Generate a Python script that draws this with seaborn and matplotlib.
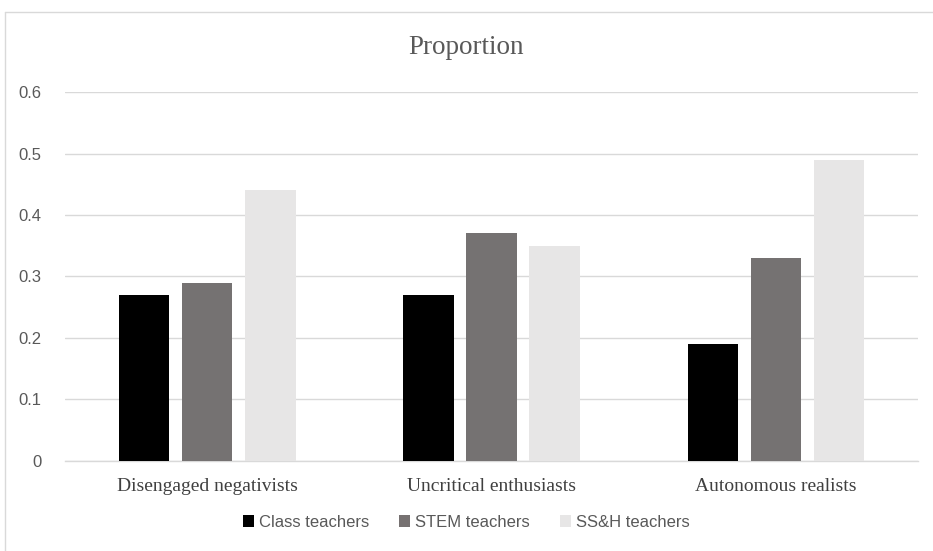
import numpy as np
import pandas as pd
import matplotlib
matplotlib.use("Agg")
import matplotlib.pyplot as plt
import seaborn as sns
from matplotlib.lines import Line2D
from matplotlib.patches import Patch

# ==========================
# Dane
# ==========================
categories = ["Disengaged negativists", "Uncritical enthusiasts", "Autonomous realists"]
groups = ["Class teachers", "STEM teachers", "SS&H teachers"]
class_teachers = [0.27, 0.27, 0.19]
stem_teachers = [0.29, 0.37, 0.33]
ssh_teachers = [0.44, 0.35, 0.49]
y_ticks = [0, 0.1, 0.2, 0.3, 0.4, 0.5, 0.6]
y_tick_labels = ["0", "0.1", "0.2", "0.3", "0.4", "0.5", "0.6"]

colors = ["#000000", "#767171", "#e7e6e6"]

df = pd.DataFrame({
    "category": categories * 3,
    "group": [g for g in groups for _ in categories],
    "value": class_teachers + stem_teachers + ssh_teachers,
})

sns.set_theme(style="white")
plt.rcParams['font.family'] = ['Liberation Sans', 'DejaVu Sans']

fig = plt.figure(figsize=(9.33, 5.51), dpi=100)
ax = fig.add_axes([0.0697, 0.1634, 0.9143, 0.6696])

sns.barplot(data=df, x="category", y="value", hue="group", order=categories,
            hue_order=groups, palette=colors, width=0.666, gap=0.2,
            edgecolor="none", ax=ax, legend=False, zorder=3)

# ==========================
# Osie i siatka
# ==========================
ax.set_ylim(0, 0.6)
ax.set_xlim(-0.5, 2.5)
ax.set_yticks(y_ticks)
ax.set_yticklabels(y_tick_labels)
ax.yaxis.grid(True, color="#d9d9d9", linewidth=1.0, zorder=0)
ax.set_axisbelow(True)
for s in ["top", "right", "left"]:
    ax.spines[s].set_visible(False)
ax.spines["bottom"].set_color("#d9d9d9")
ax.spines["bottom"].set_linewidth(1.0)
ax.tick_params(axis="y", length=0, pad=17, labelsize=12, labelcolor="#595959")
ax.tick_params(axis="x", length=0, pad=12, labelcolor="#404040")
for lbl in ax.get_xticklabels():
    lbl.set_fontfamily(['Liberation Serif', 'DejaVu Serif'])
    lbl.set_fontsize(14)
ax.set_xlabel("")
ax.set_ylabel("")

fig.text(0.5, 0.913, "Proportion", ha="center", va="center", fontsize=19.5,
         color="#595959", family=['Liberation Serif', 'DejaVu Serif'])

# Legenda na dole
handles = [Patch(facecolor=c, edgecolor="none") for c in colors]
fig.legend(handles, groups, loc="center", bbox_to_anchor=(0.5, 0.052), ncol=3,
           frameon=False, fontsize=12, handlelength=0.65, handleheight=0.65,
           handletextpad=0.3, columnspacing=1.8, labelcolor="#595959")

# Ramka wykresu (przycięta z prawej i z dołu)
fig.add_artist(Line2D([5 / 933, 5 / 933], [0, 1 - 12 / 551], color="#d9d9d9", lw=1.0,
                      transform=fig.transFigure))
fig.add_artist(Line2D([5 / 933, 1], [1 - 12 / 551, 1 - 12 / 551], color="#d9d9d9", lw=1.0,
                      transform=fig.transFigure))

fig.savefig("out.png", dpi=100)
